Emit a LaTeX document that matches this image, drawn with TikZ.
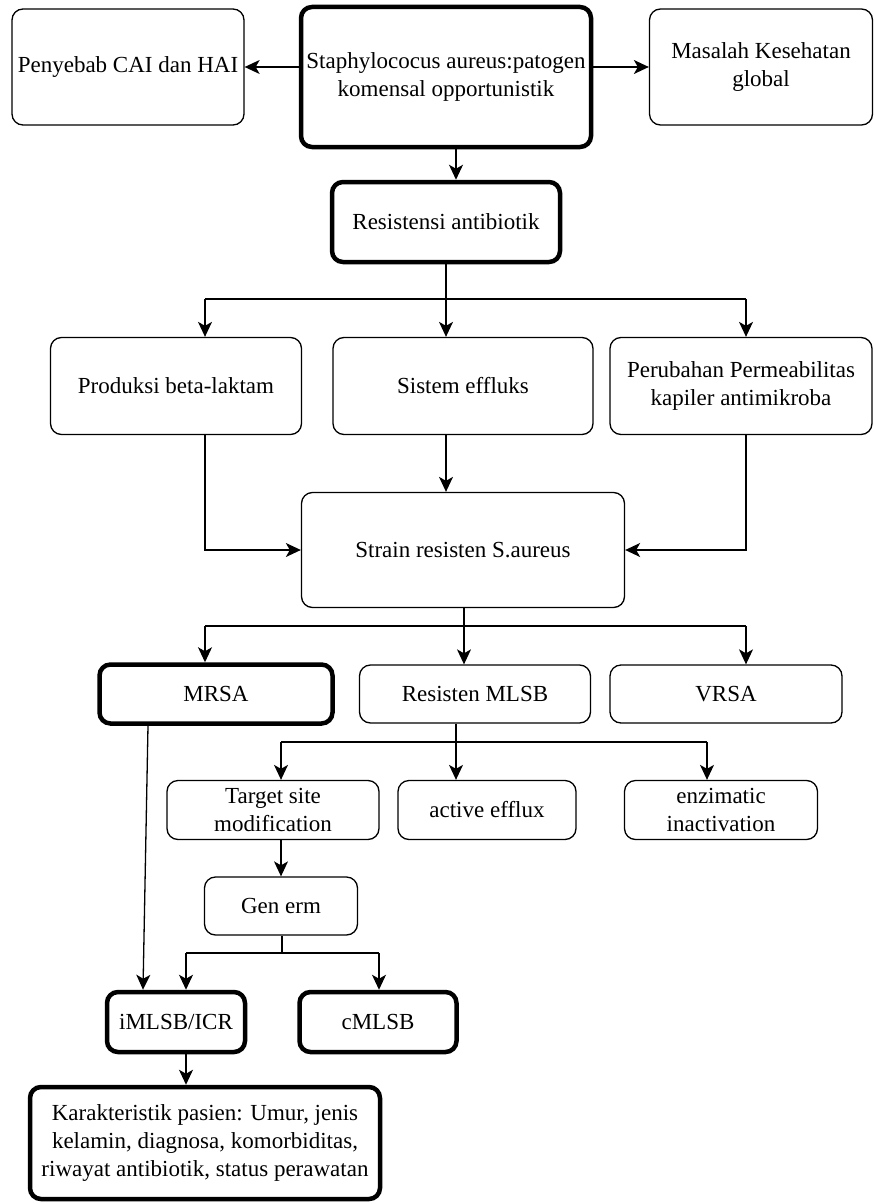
\documentclass[tikz,border=0pt]{standalone}
\usepackage{fontspec}
\setmainfont{Liberation Serif}
\usetikzlibrary{arrows.meta}
\begin{document}
\begin{tikzpicture}[x=1pt,y=-1pt,
  box/.style={draw, line width=1.3pt, rounded corners=11pt, align=center, inner sep=2pt,
    font=\fontsize{23}{28}\selectfont},
  thickbox/.style={box, line width=4.5pt},
  arr/.style={line width=1.3pt, -{Stealth[length=15pt,width=14pt,inset=4pt]}},
  ln/.style={line width=1.3pt}]
\useasboundingbox (0,0) rectangle (874,1204);
\node[box, minimum width=232pt, minimum height=116pt] (pen) at (128,67) {Penyebab CAI dan HAI};
\node[thickbox, minimum width=290pt, minimum height=140pt] (staph) at (446,77) {Staphylococus aureus:patogen\\komensal opportunistik};
\node[box, minimum width=223pt, minimum height=116pt] (mas) at (761,67) {Masalah Kesehatan\\global};
\node[thickbox, minimum width=228pt, minimum height=80pt] (res) at (446,222) {Resistensi antibiotik};
\node[box, minimum width=251pt, minimum height=97pt] (prod) at (176,386) {Produksi beta-laktam};
\node[box, minimum width=260pt, minimum height=97pt] (sis) at (463,386) {Sistem effluks};
\node[box, minimum width=262pt, minimum height=97pt] (per) at (741,386) {Perubahan Permeabilitas\\kapiler antimikroba};
\node[box, minimum width=323pt, minimum height=115pt] (strain) at (463,550) {Strain resisten S.aureus};
\node[thickbox, minimum width=233pt, minimum height=59pt] (mrsa) at (216,694) {MRSA};
\node[box, minimum width=231pt, minimum height=58pt] (mlsb) at (475,694) {Resisten MLSB};
\node[box, minimum width=232pt, minimum height=58pt] (vrsa) at (726,694) {VRSA};
\node[box, minimum width=212pt, minimum height=59pt] (target) at (273,810) {Target site\\modification};
\node[box, minimum width=178pt, minimum height=59pt] (active) at (487,810) {active efflux};
\node[box, minimum width=193pt, minimum height=59pt] (enz) at (721,810) {enzimatic\\inactivation};
\node[box, minimum width=153pt, minimum height=58pt] (gen) at (281,906) {Gen erm};
\node[thickbox, minimum width=138pt, minimum height=60pt] (imlsb) at (176,1022) {iMLSB/ICR};
\node[thickbox, minimum width=157pt, minimum height=60pt] (cmlsb) at (378,1022) {cMLSB};
\node[thickbox, minimum width=350pt, minimum height=112pt] (kar) at (205,1143) {Karakteristik pasien: Umur, jenis\\kelamin, diagnosa, komorbiditas,\\riwayat antibiotik, status perawatan};
% top
\draw[arr] (staph.west |- pen.east) -- (pen.east);
\draw[arr] (staph.east |- mas.west) -- (mas.west);
\draw[arr] ([xshift=10pt]staph.south) -- ([xshift=10pt]staph.south |- res.north);
% resistensi branches
\coordinate (j1) at (205,299);
\coordinate (j3) at (746,299);
\draw[ln] (res.south) -- (res.south |- j1);
\draw[ln] (j1) -- (j3);
\draw[arr] (j1) -- (j1 |- prod.north);
\draw[arr] (res.south |- j1) -- (res.south |- sis.north);
\draw[arr] (j3) -- (j3 |- per.north);
% into strain
\draw[arr] (j1 |- prod.south) |- (strain.west);
\draw[arr] (res.south |- sis.south) -- (res.south |- strain.north);
\draw[arr] (j3 |- per.south) |- (strain.east);
% strain branches
\coordinate (k1) at (205,626);
\coordinate (k2) at (464,626);
\coordinate (k3) at (746,626);
\draw[ln] (k2 |- strain.south) -- (k2);
\draw[ln] (k1) -- (k3);
\draw[arr] (k1) -- (k1 |- mrsa.north);
\draw[arr] (k2) -- (k2 |- mlsb.north);
\draw[arr] (k3) -- (k3 |- vrsa.north);
% mlsb branches
\coordinate (m1) at (281,742);
\coordinate (m2) at (456,742);
\coordinate (m3) at (707,742);
\draw[ln] (m2 |- mlsb.south) -- (m2);
\draw[ln] (m1) -- (m3);
\draw[arr] (m1) -- (m1 |- target.north);
\draw[arr] (m2) -- (m2 |- active.north);
\draw[arr] (m3) -- (m3 |- enz.north);
\draw[arr] (m1 |- target.south) -- (m1 |- gen.north);
% gen branches
\coordinate (g1) at (186,953);
\coordinate (g2) at (282,953);
\coordinate (g3) at (379,953);
\draw[ln] (g2 |- gen.south) -- (g2);
\draw[ln] (g1) -- (g3);
\draw[arr] (g1) -- (g1 |- imlsb.north);
\draw[arr] (g3) -- (g3 |- cmlsb.north);
% mrsa to imlsb
\draw[arr] ([xshift=-68pt]mrsa.south) -- ([xshift=-33pt]imlsb.north);
% imlsb to kar
\draw[arr] (g1 |- imlsb.south) -- (g1 |- kar.north);
\end{tikzpicture}
\end{document}
